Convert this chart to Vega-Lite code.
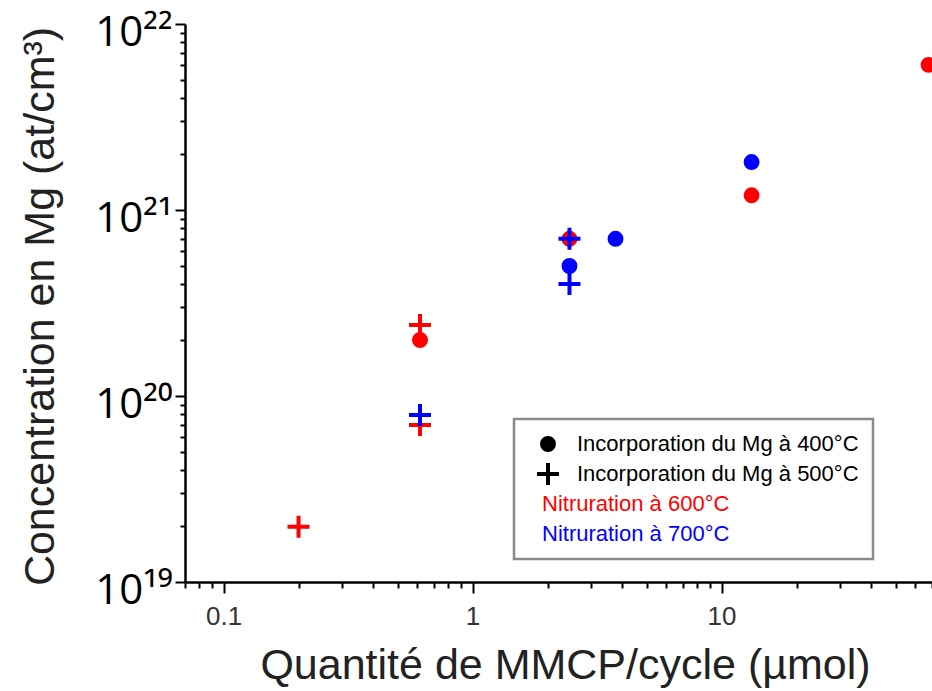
{
  "$schema": "https://vega.github.io/schema/vega-lite/v6.json",
  "width": 747,
  "height": 558,
  "autosize": "none",
  "padding": {"left": 185, "top": 24, "right": 0, "bottom": 109},
  "background": "white",
  "config": {"view": {"stroke": null}, "legend": {"strokeWidth": 2.5}},
  "data": {
    "values": [
      {"q": 0.2, "c": 1.98e19, "incorp": "Incorporation du Mg à 500°C", "nitr": "Nitruration à 600°C"},
      {"q": 0.615, "c": 2.41e20, "incorp": "Incorporation du Mg à 500°C", "nitr": "Nitruration à 600°C"},
      {"q": 0.615, "c": 2.0e20, "incorp": "Incorporation du Mg à 400°C", "nitr": "Nitruration à 600°C"},
      {"q": 0.615, "c": 6.98e19, "incorp": "Incorporation du Mg à 500°C", "nitr": "Nitruration à 600°C"},
      {"q": 0.615, "c": 7.9e19, "incorp": "Incorporation du Mg à 500°C", "nitr": "Nitruration à 700°C"},
      {"q": 2.45, "c": 7.0e20, "incorp": "Incorporation du Mg à 400°C", "nitr": "Nitruration à 600°C"},
      {"q": 2.45, "c": 7.0e20, "incorp": "Incorporation du Mg à 500°C", "nitr": "Nitruration à 700°C"},
      {"q": 2.45, "c": 5.0e20, "incorp": "Incorporation du Mg à 400°C", "nitr": "Nitruration à 700°C"},
      {"q": 2.45, "c": 4.0e20, "incorp": "Incorporation du Mg à 500°C", "nitr": "Nitruration à 700°C"},
      {"q": 3.75, "c": 7.0e20, "incorp": "Incorporation du Mg à 400°C", "nitr": "Nitruration à 700°C"},
      {"q": 13.2, "c": 1.81e21, "incorp": "Incorporation du Mg à 400°C", "nitr": "Nitruration à 700°C"},
      {"q": 13.2, "c": 1.2e21, "incorp": "Incorporation du Mg à 400°C", "nitr": "Nitruration à 600°C"},
      {"q": 67.8, "c": 6.03e21, "incorp": "Incorporation du Mg à 400°C", "nitr": "Nitruration à 600°C"}
    ]
  },
  "mark": {"type": "point", "filled": true, "opacity": 1, "size": 254, "strokeWidth": 0},
  "encoding": {
    "x": {
      "field": "q", "type": "quantitative",
      "scale": {"type": "log", "domain": [0.07, 70], "nice": false},
      "axis": {
        "title": "Quantité de MMCP/cycle (µmol)",
        "titleFont": "Liberation Sans", "titleFontSize": 43, "titleFontWeight": "normal", "titleColor": "#222",
        "titleX": 380, "titleY": 96, "titleBaseline": "alphabetic", "titleAlign": "center",
        "values": [0.07,0.08,0.09,0.1,0.2,0.3,0.4,0.5,0.6,0.7,0.8,0.9,1,2,3,4,5,6,7,8,9,10,20,30,40,50,60,70],
        "labelExpr": "datum.value == 0.1 ? '0.1' : datum.value == 1 ? '1' : datum.value == 10 ? '10' : ''",
        "labelFont": "Liberation Sans", "labelFontSize": 26, "labelColor": "#333", "labelPadding": 10,
        "labelOverlap": false, "labelFlush": false,
        "grid": false, "domainColor": "black", "domainWidth": 2.5,
        "tickColor": "black", "tickWidth": 2,
        "tickSize": {"condition": {"test": "datum.value == 0.1 || datum.value == 1 || datum.value == 10", "value": 11}, "value": 6}
      }
    },
    "y": {
      "field": "c", "type": "quantitative",
      "scale": {"type": "log", "domain": [1e19, 1e22], "nice": false},
      "axis": {
        "title": "Concentration en Mg (at/cm³)",
        "titleFont": "Liberation Sans", "titleFontSize": 43, "titleFontWeight": "normal", "titleColor": "#222",
        "titleAngle": -90, "titleX": -145, "titleY": 282, "titleAlign": "center", "titleBaseline": "middle",
        "values": [1e19,2e19,3e19,4e19,5e19,6e19,7e19,8e19,9e19,1e20,2e20,3e20,4e20,5e20,6e20,7e20,8e20,9e20,1e21,2e21,3e21,4e21,5e21,6e21,7e21,8e21,9e21,1e22],
        "labelExpr": "datum.value == 1e19 ? '10¹⁹' : datum.value == 1e20 ? '10²⁰' : datum.value == 1e21 ? '10²¹' : datum.value == 1e22 ? '10²²' : ''",
        "labelFont": "Open Sans", "labelFontSize": 42, "labelColor": "black", "labelPadding": 3, "labelOffset": 8,
        "labelOverlap": false, "labelFlush": false,
        "grid": false, "domainColor": "black", "domainWidth": 2.5,
        "tickColor": "black", "tickWidth": 2,
        "tickSize": {"condition": {"test": "datum.value == 1e19 || datum.value == 1e20 || datum.value == 1e21 || datum.value == 1e22", "value": 10}, "value": 5}
      }
    },
    "shape": {
      "field": "incorp", "type": "nominal",
      "scale": {
        "domain": ["Incorporation du Mg à 400°C", "Incorporation du Mg à 500°C", "Nitruration à 600°C", "Nitruration à 700°C"],
        "range": ["circle", "M-1.38,-0.25H-0.25V-1.38H0.25V-0.25H1.38V0.25H0.25V1.38H-0.25V0.25H-1.38Z", "circle", "circle"]
      },
      "legend": {
        "orient": "none", "legendX": 329, "legendY": 395, "title": null,
        "strokeColor": "#8a8a8a", "fillColor": "white", "padding": 14,
        "symbolOffset": 9, "symbolSize": 254, "symbolFillColor": "black", "symbolStrokeColor": "black", "symbolStrokeWidth": 0,
        "symbolOpacity": {"expr": "indexof(datum.value, 'Nitruration') >= 0 ? 0 : 1"},
        "labelFont": "Liberation Sans", "labelFontSize": 22, "labelLimit": 500,
        "labelColor": {"expr": "datum.value == 'Nitruration à 600°C' ? '#ff0000' : datum.value == 'Nitruration à 700°C' ? '#0000ff' : 'black'"},
        "labelOffset": {"expr": "indexof(datum.value, 'Nitruration') >= 0 ? -17 : 18"},
        "rowPadding": 8
      }
    },
    "color": {
      "field": "nitr", "type": "nominal",
      "scale": {"domain": ["Nitruration à 600°C", "Nitruration à 700°C"], "range": ["#ff0000", "#0000ff"]},
      "legend": null
    }
  }
}
